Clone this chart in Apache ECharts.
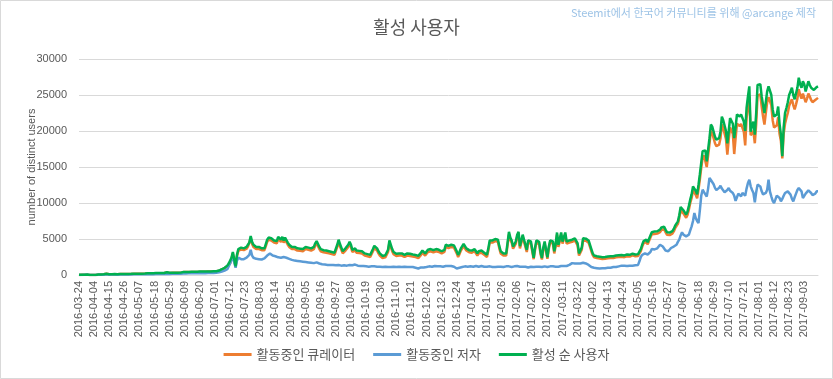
<!DOCTYPE html>
<html><head><meta charset="utf-8">
<script src="https://cdn.jsdelivr.net/npm/echarts@6/dist/echarts.min.js"></script>
<style>html,body{margin:0;padding:0;background:#fff}#c{width:833px;height:379px}</style>
</head><body><div id="c"></div>
<script>
// Categories: daily dates 2016-03-24 .. 2017-09-13
const startDate = '2016-03-24';
const dayCount = 539;
const categories = [];
(function(){const s=Date.UTC(2016,2,24);for(let i=0;i<dayCount;i++){categories.push(new Date(s+i*86400000).toISOString().slice(0,10));}})();

const seriesNames = ['활동중인 큐레이터','활동중인 저자','활성 순 사용자'];
const yTicks = [0,5000,10000,15000,20000,25000,30000];

// 활동중인 큐레이터 (active curators)
const curators = [
10,30,20,40,30,20,50,40,10,0,0,
0,10,10,50,60,70,80,90,100,160,110,
100,90,110,100,120,110,100,120,130,130,140,
120,140,150,140,160,150,160,170,160,170,180,
170,190,180,200,190,300,230,240,230,250,240,
250,260,250,260,270,260,270,280,270,360,280,
290,280,300,290,300,310,300,310,320,330,400,
410,400,420,410,420,430,420,430,440,430,440,
450,440,450,460,450,460,470,460,470,480,490,
480,500,540,600,670,770,860,950,1050,1240,1500,
1600,2250,3000,2950,1100,2600,3350,3250,3550,3650,3450,
3350,3650,3950,4200,5100,4300,3900,3700,3600,3500,3600,
3450,3450,3550,3450,4000,4600,4900,5100,4800,4700,4500,
4300,4400,5000,5100,4600,5000,4500,4900,4700,4200,3900,
3700,3600,3550,3600,3500,3400,3300,3350,3400,3300,3500,
3600,3550,3500,3600,3400,3550,3600,4100,4400,4000,3600,
3300,3200,3150,3200,3100,3050,3000,2950,2900,2850,2800,
2800,3900,4600,4000,3500,3000,3200,3400,3500,3900,4300,
3900,3200,3300,3400,3100,2950,3050,3200,3000,2800,2700,
2650,2600,2550,2500,2500,3300,3750,3500,3400,3000,2700,
2500,2350,2400,2450,2500,3200,4500,3900,3300,2900,2700,
2650,2600,2700,2650,2700,2550,2500,2600,2700,2750,2650,
2600,2550,2500,2480,2400,2350,2400,2800,3100,2900,2700,
2900,3200,3350,3300,3200,3150,3250,3300,3250,3200,3100,
3000,2950,3200,3900,3800,3750,3800,3900,4000,3800,3600,
3000,2500,2900,3400,3700,4000,3900,3400,3200,3150,3100,
3100,3250,3300,3000,2700,3000,3200,3100,3000,2800,2550,
2500,3400,4500,4550,4500,4550,4700,4800,4600,3700,3000,
2800,2700,2750,2700,2800,5600,4900,4500,3650,4000,4350,
5300,5700,3700,4500,5300,4600,4350,3200,4500,4400,4350,
4300,2200,3500,4500,4350,4300,2900,2150,3500,4350,4400,
2250,3600,4500,4400,4350,3000,4000,5600,3900,4700,5600,
4350,4400,5600,4350,4400,4500,4550,4600,4650,4800,5050,
4100,2700,2550,3500,4800,4800,4750,4700,4500,4350,3300,
2750,2450,2400,2350,2350,2300,2250,2220,2210,2260,2300,
2320,2320,2360,2310,2360,2410,2460,2500,2510,2560,2540,
2460,2480,2560,2610,2580,2560,2660,2720,2660,2610,2580,
2650,2900,3300,3900,4400,4600,4600,4250,4400,5200,5650,
5700,5700,5650,5750,5850,5950,6250,6500,6350,5950,5600,
5500,5550,5650,5750,6050,6500,6650,7100,7900,9000,8850,
8550,8250,7950,8350,9100,10000,10700,11750,11450,11150,10650,
11900,13300,14900,16300,16600,16500,15000,16600,18200,20000,19700,
19600,18300,17900,17700,18100,19000,20900,20400,20200,18900,16700,
18800,20500,20700,19600,16800,19000,21000,20900,20700,21000,21200,
19900,18000,21800,23400,24800,19400,19700,20000,18300,21000,24900,
25000,25100,23400,22000,20900,22500,24000,24700,24800,23600,21500,
20500,20700,20800,21900,19600,18600,16200,19600,21000,21800,22500,
23500,24000,24400,23600,23000,23700,24500,25800,25000,24500,25200,
25000,24000,24500,25200,24800,24300,24000,23800,24300,24500,24600
];

// 활동중인 저자 (active authors)
const authors = [
0,10,10,20,20,10,30,20,0,0,0,
0,0,10,30,30,40,40,50,50,90,60,
50,50,60,50,60,60,50,60,70,70,70,
60,70,80,70,80,80,80,90,80,90,90,
90,100,90,100,100,160,120,120,120,130,120,
130,130,130,140,140,130,140,150,140,190,150,
150,150,160,150,160,160,160,170,170,180,220,
230,220,230,230,240,240,230,240,250,240,250,
250,250,260,260,250,260,270,260,270,280,290,
300,320,350,380,420,480,550,620,700,800,950,
1600,2100,2500,2400,1000,2000,2400,2300,2200,2150,2200,
2300,2400,2500,2800,3500,2700,2400,2300,2250,2200,2200,
2200,2150,2200,2300,2500,2700,2850,3000,2800,2700,2650,
2600,2500,2450,2450,2400,2450,2500,2450,2400,2300,2250,
2150,2100,2050,2000,1950,1950,1900,1900,1850,1850,1800,
1800,1750,1750,1700,1700,1650,1650,1700,1750,1650,1600,
1550,1500,1500,1450,1450,1400,1450,1400,1350,1400,1350,
1350,1450,1400,1350,1300,1300,1350,1300,1300,1350,1400,
1400,1350,1500,1450,1350,1300,1300,1250,1300,1250,1200,
1200,1200,1150,1200,1200,1250,1200,1150,1150,1100,1150,
1150,1100,1100,1150,1150,1100,1150,1100,1100,1150,1100,
1100,1150,1150,1100,1100,1100,1150,1050,1100,1100,1100,
1050,1100,1050,1000,950,900,1000,1050,1100,1050,1050,
1100,1150,1200,1200,1150,1200,1250,1200,1200,1150,1200,
1150,1150,1200,1250,1200,1250,1200,1250,1200,1150,1100,
900,750,1000,1050,1100,1150,1200,1150,1150,1200,1200,
1200,1150,1200,1250,1200,1150,1200,1250,1200,1150,1100,
1150,1200,1200,1150,1100,1050,1100,1150,1150,1200,1150,
1100,1100,1150,1200,1150,1200,1150,1100,1150,1200,1200,
1250,1200,1150,1100,1150,1200,1150,1100,1050,1100,1150,
1150,1100,1150,1150,1200,1150,1100,1100,1150,1200,1150,
1100,1150,1200,1150,1200,1200,1150,1200,1150,1200,1250,
1200,1250,1200,1250,1300,1400,1550,1650,1600,1600,1650,
1600,1550,1600,1650,1700,1650,1600,1550,1400,1250,1100,
1050,1000,1000,950,950,900,950,950,1000,950,950,
1000,1050,1000,1050,1100,1050,1100,1150,1200,1250,1300,
1300,1280,1300,1250,1300,1300,1250,1300,1300,1350,1350,
1400,1900,2500,2800,3050,3000,2850,2850,2900,3200,3600,
3600,3550,3600,3700,3900,4200,4100,3950,3700,3400,3300,
3300,3500,3750,3800,3950,3980,4200,4600,4910,5500,5930,
5600,5400,5370,5460,5600,6200,6760,7500,8600,7900,7500,
7200,9000,11000,11850,11500,11400,10900,12000,13500,13200,13000,
12600,12100,11800,11600,12100,12400,12000,11850,11500,11300,11800,
12080,11700,11620,11400,11000,10300,10800,11300,11100,10930,11400,
11200,11020,12000,12780,13240,12310,11800,11390,10090,11500,12550,
12780,12300,11620,11200,10930,11400,11850,13240,11620,10930,10300,
10000,10500,11020,10900,10690,10230,10560,11000,11390,11500,11620,
11400,11160,10600,10230,10800,11300,11800,12080,11900,11620,10690,
11000,11300,11500,11760,11600,11390,11100,10930,11300,11620,11620
];

// 활성 순 사용자 (unique active users)
const uniqueUsers = [
20,40,30,50,40,30,60,50,10,0,0,
0,10,20,60,70,80,90,100,110,180,120,
110,100,120,110,130,120,110,130,140,140,150,
130,150,160,150,170,160,170,180,170,180,190,
180,200,190,210,200,320,240,250,240,260,250,
260,270,260,270,280,270,280,290,280,380,290,
300,290,310,300,310,320,310,320,330,340,420,
430,420,440,430,440,450,440,450,460,450,460,
470,460,470,480,470,480,490,480,490,500,510,
500,520,560,620,700,800,900,1000,1100,1300,1600,
1700,2400,3200,3150,1200,2800,3600,3500,3800,3900,3700,
3600,3900,4200,4500,5400,4600,4200,4000,3900,3800,3900,
3700,3700,3800,3700,4300,4900,5200,5400,5100,5000,4800,
4600,4700,5300,5400,4900,5300,4800,5200,5000,4500,4200,
4000,3900,3850,3900,3800,3700,3600,3650,3700,3600,3800,
3900,3850,3800,3900,3700,3850,3900,4400,4700,4300,3900,
3600,3500,3450,3500,3400,3350,3300,3250,3200,3150,3100,
3100,4200,4900,4300,3800,3300,3500,3700,3800,4200,4600,
4200,3500,3600,3700,3400,3250,3350,3500,3300,3100,3000,
2950,2900,2850,2800,2800,3600,4050,3800,3700,3300,3000,
2800,2650,2700,2750,2800,3500,4800,4200,3600,3200,3000,
2950,2900,3000,2950,3000,2850,2800,2900,3000,3050,2950,
2900,2850,2800,2780,2700,2650,2700,3100,3400,3200,3000,
3200,3500,3650,3600,3500,3450,3550,3600,3550,3500,3400,
3300,3250,3500,4200,4100,4050,4100,4200,4300,4100,3900,
3300,2800,3200,3700,4000,4300,4200,3700,3500,3450,3400,
3400,3550,3600,3300,3000,3300,3500,3400,3300,3100,2850,
2800,3700,4800,4850,4800,4850,5000,5100,4900,4000,3300,
3100,3000,3050,3000,3100,6000,5200,4800,3950,4300,4650,
5600,6000,4000,4800,5600,4900,4650,3500,4800,4700,4650,
4600,2400,3800,4800,4650,4600,3200,2350,3800,4650,4700,
2450,3900,4800,4700,4650,3300,4300,5900,4200,5000,5900,
4650,4700,5900,4650,4700,4800,4850,4900,4950,5100,5350,
4400,3000,2800,3800,5100,5100,5050,5000,4800,4650,3600,
3000,2700,2650,2600,2600,2550,2500,2460,2450,2500,2550,
2560,2560,2600,2550,2600,2650,2700,2740,2750,2800,2780,
2700,2720,2800,2850,2820,2800,2900,2960,2900,2850,2820,
2900,3150,3600,4200,4700,4900,4900,4550,4700,5500,5950,
6050,6050,6000,6070,6200,6300,6600,6850,6700,6300,5950,
5850,5900,6000,6100,6400,6850,7000,7450,8300,9450,9300,
9000,8700,8400,8800,9600,10500,11200,12300,12000,11700,11200,
12500,14000,15600,17200,17300,17300,15800,17400,19000,20900,20600,
20400,19200,18800,18600,19000,19900,22000,21500,21300,20000,18300,
20000,21800,22000,21000,19000,20500,22300,22200,22000,22300,22500,
21300,20000,23200,24800,26200,19900,20800,21300,19500,22500,26400,
26500,26500,24800,23600,22500,24000,25500,26200,26200,25000,23000,
22000,22100,22300,23400,21000,19500,16500,20500,22500,23200,24000,
25000,25500,26000,25000,24400,25200,26000,27400,26500,26000,26900,
26500,25500,26200,26900,26400,26000,25800,25700,25900,26100,26200
];

const colors = ['#ED7D31','#5B9BD5','#00B050'];
const chart = echarts.init(document.getElementById('c'), null, {renderer:'canvas'});
const labelFont = '"Liberation Sans", Arial, sans-serif';
const krFont = '"Noto Sans CJK KR", sans-serif';
chart.setOption({
  animation:false,
  backgroundColor:'#fff',
  color: colors,
  title:{
    text:'활성 사용자', left:'center', top:13,
    textStyle:{fontFamily:krFont, fontSize:18, fontWeight:'normal', color:'#595959'}
  },
  graphic:[
    {type:'rect', shape:{x:0.5,y:0.5,width:832,height:378}, style:{fill:'none', stroke:'#D9D9D9', lineWidth:1}, silent:true},
    {type:'text', right:17, top:7, style:{text:'Steemit에서 한국어 커뮤니티를 위해 @arcange 제작', fill:'#9DC3E6', font:'11px "Noto Sans CJK KR", sans-serif'}}
  ],
  legend:{
    bottom:13, left:'center', icon:'rect', itemWidth:28, itemHeight:3, itemGap:18,
    textStyle:{fontFamily:krFont, fontSize:13, color:'#595959'},
    data: seriesNames
  },
  grid:{left:79, right:15, top:59, bottom:104, containLabel:false},
  xAxis:{
    type:'category', data:categories, boundaryGap:false,
    axisLine:{show:true, lineStyle:{color:'#D9D9D9'}},
    axisTick:{show:false},
    axisLabel:{interval:10, rotate:90, fontSize:11, fontFamily:labelFont, color:'#595959', margin:6}
  },
  yAxis:{
    type:'value', min:0, max:30000, interval:5000,
    name:'number of distinct users', nameLocation:'middle', nameGap:42, nameMoveOverlap:false,
    nameTextStyle:{fontFamily:labelFont, fontSize:11, color:'#595959'},
    axisLine:{show:false}, axisTick:{show:false},
    axisLabel:{fontSize:11, fontFamily:labelFont, color:'#595959', margin:12, formatter:function(v){return String(v);}},
    splitLine:{lineStyle:{color:'#D9D9D9', width:1}}
  },
  series:[
    {name:seriesNames[0], type:'line', data:curators, symbol:'none', lineStyle:{width:2.5, color:colors[0]}, z:2},
    {name:seriesNames[1], type:'line', data:authors, symbol:'none', lineStyle:{width:2.5, color:colors[1]}, z:3},
    {name:seriesNames[2], type:'line', data:uniqueUsers, symbol:'none', lineStyle:{width:2.5, color:colors[2]}, z:4}
  ]
});
</script></body></html>
